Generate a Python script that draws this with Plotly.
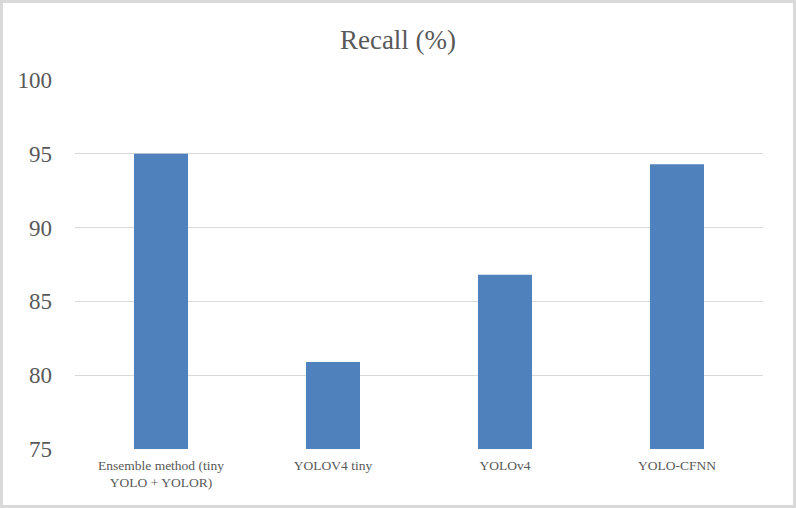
import plotly.graph_objects as go

categories = ["Ensemble method (tiny<br>YOLO + YOLOR)", "YOLOV4 tiny", "YOLOv4", "YOLO-CFNN"]
recall = [95.0, 80.9, 86.8, 94.3]
y_ticks = [75, 80, 85, 90, 95, 100]

W, H = 796, 508
ml, mr, mt, mb = 75, 33, 80, 59
pw, ph = W - ml - mr, H - mt - mb

fig = go.Figure(go.Bar(x=categories, y=recall, marker_color="#4f81bd",
                       marker_line_width=0, width=0.314))

fig.update_layout(
    width=W, height=H,
    margin=dict(l=ml, r=mr, t=mt, b=mb),
    paper_bgcolor="white", plot_bgcolor="white",
    font=dict(family="Liberation Serif", color="#595959"),
    title=dict(text="Recall (%)", x=0.5, xanchor="center", y=1 - 40 / H, yanchor="middle",
               font=dict(size=27, color="#595959")),
    showlegend=False,
    xaxis=dict(showgrid=False, showline=False, ticks="", tickfont=dict(size=13.5),
               ticklabelstandoff=6),
    yaxis=dict(range=[75, 100], tickvals=y_ticks, showgrid=True, gridcolor="#d9d9d9",
               gridwidth=1.3, zeroline=False, showline=False, ticks="",
               tickfont=dict(size=23), ticklabelstandoff=22),
    shapes=[dict(type="rect", xref="paper", yref="paper",
                 x0=-(ml - 1.5) / pw, x1=1 + (mr - 1.5) / pw,
                 y0=-(mb - 1.5) / ph, y1=1 + (mt - 1.5) / ph,
                 line=dict(color="#d9d9d9", width=3), layer="below")],
)

fig.write_html("out.html")
